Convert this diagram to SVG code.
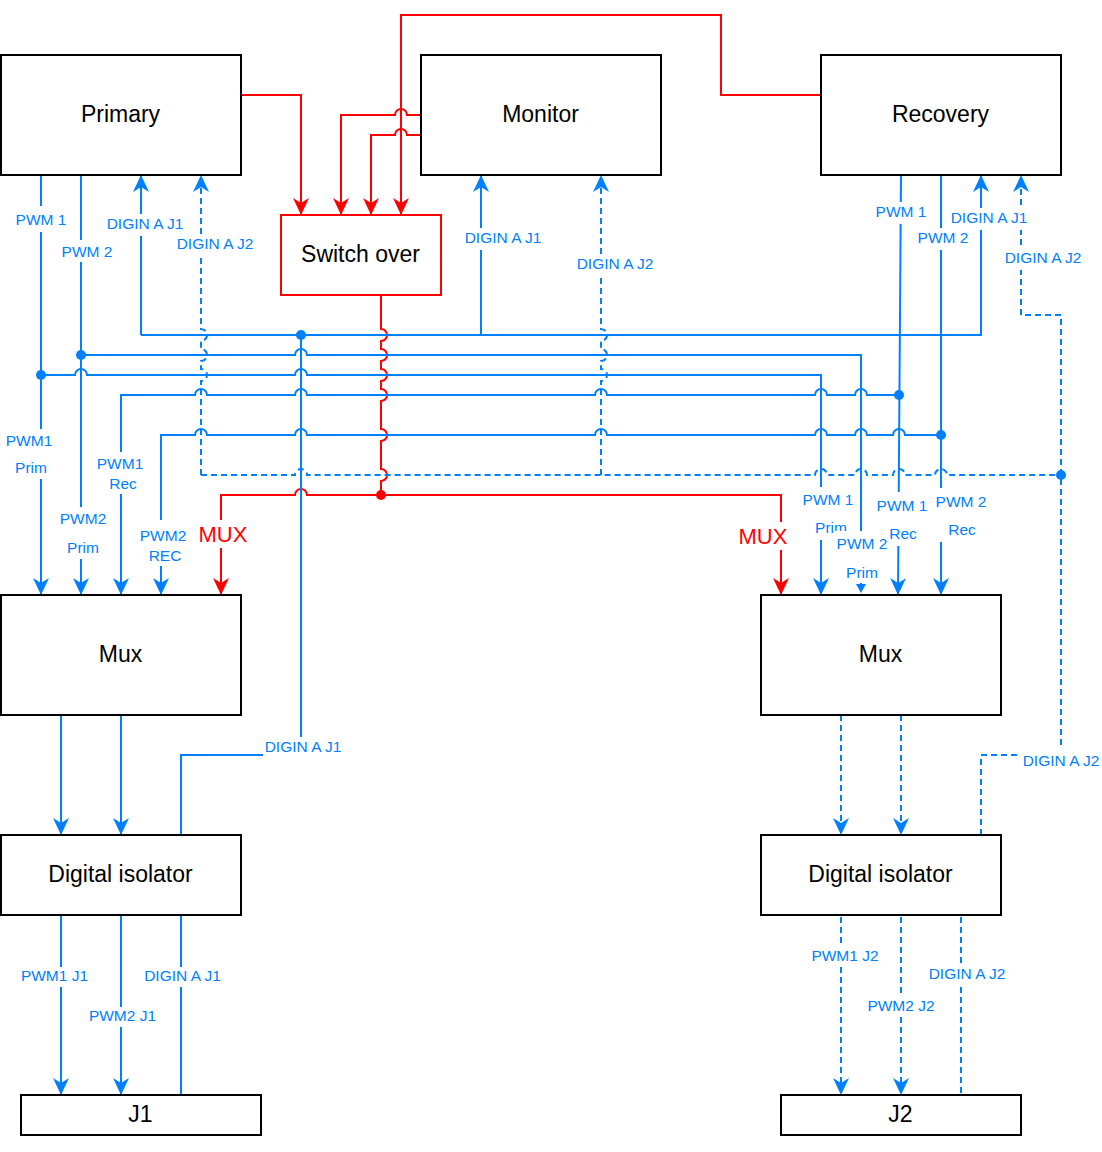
<svg xmlns="http://www.w3.org/2000/svg" width="1102" height="1152" viewBox="0 0 1102 1152">
<defs>
<style>
.box{fill:#fff;stroke:#000;stroke-width:2}
.rbox{fill:#fff;stroke:#f00;stroke-width:2}
.bt{font-family:"Liberation Sans",Arial,sans-serif;font-size:23px;fill:#000;text-anchor:middle}
.b{fill:none;stroke:#007fff;stroke-width:2}
.d{fill:none;stroke:#007fff;stroke-width:2;stroke-dasharray:6 4}
.r{fill:none;stroke:#f00;stroke-width:2}
.lb{font-family:"Liberation Sans",Arial,sans-serif;font-size:15.5px;fill:#007fff;text-anchor:middle}
.lr{font-family:"Liberation Sans",Arial,sans-serif;font-size:22px;fill:#f00;text-anchor:middle}
.bg{fill:#fff;stroke:none}
</style>
<marker id="ab" markerUnits="userSpaceOnUse" markerWidth="17" markerHeight="16" viewBox="0 0 17 16" refX="17" refY="8" orient="auto"><path d="M0,0 L17,8 L0,16 L5,8 Z" fill="#007fff"/></marker>
<marker id="ar" markerUnits="userSpaceOnUse" markerWidth="17" markerHeight="16" viewBox="0 0 17 16" refX="17" refY="8" orient="auto"><path d="M0,0 L17,8 L0,16 L5,8 Z" fill="#f00"/></marker>
</defs>
<rect width="1102" height="1152" fill="#fff"/>

<g id="connectors">
<!-- red -->
<path class="r" d="M241,95 H301 V215" marker-end="url(#ar)"/>
<path class="r" d="M421,115 H407 a6,6 0 0 0 -12,0 H341 V215" marker-end="url(#ar)"/>
<path class="r" d="M421,135 H407 a6,6 0 0 0 -12,0 H371 V215" marker-end="url(#ar)"/>
<path class="r" d="M821,95 H721 V15 H401 V215" marker-end="url(#ar)"/>
<path class="r" d="M381,295 V329 a6,6 0 0 1 0,12 V349 a6,6 0 0 1 0,12 V369 a6,6 0 0 1 0,12 V389 a6,6 0 0 1 0,12 V429 a6,6 0 0 1 0,12 V469 a6,6 0 0 1 0,12 V495"/>
<path class="r" d="M381,495 H307 a6,6 0 0 0 -12,0 H221 V595" marker-end="url(#ar)"/>
<path class="r" d="M381,495 H781 V595" marker-end="url(#ar)"/>

<!-- blue solid -->
<path class="b" d="M41,175 V595" marker-end="url(#ab)"/>
<path class="b" d="M81,175 V595" marker-end="url(#ab)"/>
<path class="b" d="M141,335 V175" marker-end="url(#ab)"/>
<path class="b" d="M141,335 H981 V175" marker-end="url(#ab)"/>
<path class="b" d="M481,335 V175" marker-end="url(#ab)"/>
<path class="b" d="M81,355 H295 a6,6 0 0 1 12,0 H861 V586"/>
<path d="M856,584 L866,584 L861,593 Z" fill="#007fff"/>
<path class="b" d="M41,375 H75 a6,6 0 0 1 12,0 H295 a6,6 0 0 1 12,0 H821 V595" marker-end="url(#ab)"/>
<path class="b" d="M899,395 H867 a6,6 0 0 0 -12,0 H827 a6,6 0 0 0 -12,0 H607 a6,6 0 0 0 -12,0 H307 a6,6 0 0 0 -12,0 H207 a6,6 0 0 0 -12,0 H121 V595" marker-end="url(#ab)"/>
<path class="b" d="M941,435 H905 a6,6 0 0 0 -12,0 H867 a6,6 0 0 0 -12,0 H827 a6,6 0 0 0 -12,0 H607 a6,6 0 0 0 -12,0 H307 a6,6 0 0 0 -12,0 H207 a6,6 0 0 0 -12,0 H161 V595" marker-end="url(#ab)"/>
<path class="b" d="M901,175 L898,595" marker-end="url(#ab)"/>
<path class="b" d="M941,175 V595" marker-end="url(#ab)"/>
<path class="b" d="M301,335 V755 H181 V835"/>
<path class="b" d="M61,715 V835" marker-end="url(#ab)"/>
<path class="b" d="M121,715 V835" marker-end="url(#ab)"/>
<path class="b" d="M61,915 V1095" marker-end="url(#ab)"/>
<path class="b" d="M121,915 V1095" marker-end="url(#ab)"/>
<path class="b" d="M181,915 V1095"/>

<!-- blue dashed -->
<path class="d" d="M201,475 V381 a6,6 0 0 0 0,-12 V361 a6,6 0 0 0 0,-12 V341 a6,6 0 0 0 0,-12 V175" marker-end="url(#ab)"/>
<path class="d" d="M601,475 V381 a6,6 0 0 0 0,-12 V361 a6,6 0 0 0 0,-12 V341 a6,6 0 0 0 0,-12 V175" marker-end="url(#ab)"/>
<path class="d" d="M201,475 H295 a6,6 0 0 1 12,0 H815 a6,6 0 0 1 12,0 H855 a6,6 0 0 1 12,0 H893 a6,6 0 0 1 12,0 H935 a6,6 0 0 1 12,0 H1061"/>
<path class="d" d="M981,835 V755 H1061 V315 H1021 V175" marker-end="url(#ab)"/>
<path class="d" d="M841,715 V835" marker-end="url(#ab)"/>
<path class="d" d="M901,715 V835" marker-end="url(#ab)"/>
<path class="d" d="M841,917 V1095" marker-end="url(#ab)"/>
<path class="d" d="M901,917 V1095" marker-end="url(#ab)"/>
<path class="d" d="M961,917 V1095"/>

<!-- junction dots -->
<g fill="#007fff">
<circle cx="301" cy="335" r="5"/>
<circle cx="81" cy="355" r="5"/>
<circle cx="41" cy="375" r="5"/>
<circle cx="899" cy="395" r="5"/>
<circle cx="941" cy="435" r="5"/>
<circle cx="1061" cy="475" r="5"/>
</g>
<circle cx="381" cy="495" r="5" fill="#f00"/>

<!-- labels -->
<g>
<rect class="bg" x="15" y="206" width="52" height="26"/><text class="lb" x="41" y="225">PWM 1</text>
<rect class="bg" x="61" y="240" width="52" height="22"/><text class="lb" x="87" y="257">PWM 2</text>
<rect class="bg" x="105" y="214" width="80" height="22"/><text class="lb" x="145" y="229">DIGIN A J1</text>
<rect class="bg" x="175" y="234" width="80" height="22"/><text class="lb" x="215" y="249">DIGIN A J2</text>
<rect class="bg" x="463" y="228" width="80" height="22"/><text class="lb" x="503" y="243">DIGIN A J1</text>
<rect class="bg" x="575" y="254" width="80" height="22"/><text class="lb" x="615" y="269">DIGIN A J2</text>
<rect class="bg" x="875" y="202" width="52" height="22"/><text class="lb" x="901" y="217">PWM 1</text>
<rect class="bg" x="949" y="208" width="80" height="22"/><text class="lb" x="989" y="223">DIGIN A J1</text>
<rect class="bg" x="917" y="228" width="52" height="22"/><text class="lb" x="943" y="243">PWM 2</text>
<rect class="bg" x="1003" y="248" width="80" height="22"/><text class="lb" x="1043" y="263">DIGIN A J2</text>

<rect class="bg" x="5" y="429" width="49" height="50"/><text class="lb" x="29" y="446">PWM1</text><text class="lb" x="31" y="473">Prim</text>
<rect class="bg" x="96" y="452" width="49" height="42"/><text class="lb" x="120" y="469">PWM1</text><text class="lb" x="123" y="489">Rec</text>
<rect class="bg" x="58" y="507" width="50" height="52"/><text class="lb" x="83" y="524">PWM2</text><text class="lb" x="83" y="553">Prim</text>
<rect class="bg" x="138" y="520" width="50" height="46"/><text class="lb" x="163" y="541">PWM2</text><text class="lb" x="165" y="561">REC</text>
<rect class="bg" x="197" y="520" width="50" height="28"/><text class="lr" x="223" y="542">MUX</text>
<rect class="bg" x="737" y="522" width="50" height="28"/><text class="lr" x="763" y="544">MUX</text>

<rect class="bg" x="802" y="487" width="52" height="53"/><text class="lb" x="828" y="505">PWM 1</text><text class="lb" x="831" y="533">Prim</text>
<rect class="bg" x="876" y="492" width="52" height="54"/><text class="lb" x="902" y="511">PWM 1</text><text class="lb" x="903" y="539">Rec</text>
<rect class="bg" x="935" y="488" width="53" height="54"/><text class="lb" x="961" y="507">PWM 2</text><text class="lb" x="962" y="535">Rec</text>
<rect class="bg" x="835" y="531" width="54" height="52"/><text class="lb" x="862" y="549">PWM 2</text><text class="lb" x="862" y="578">Prim</text>

<rect class="bg" x="263" y="737" width="80" height="21"/><text class="lb" x="303" y="752">DIGIN A J1</text>
<rect class="bg" x="1021" y="748" width="80" height="22"/><text class="lb" x="1061" y="766">DIGIN A J2</text>

<rect class="bg" x="20" y="967" width="69" height="20"/><text class="lb" x="54.5" y="981">PWM1 J1</text>
<rect class="bg" x="88" y="1007" width="69" height="20"/><text class="lb" x="122.5" y="1021">PWM2 J1</text>
<rect class="bg" x="143" y="967" width="79" height="20"/><text class="lb" x="182.5" y="981">DIGIN A J1</text>
<rect class="bg" x="810" y="947" width="70" height="20"/><text class="lb" x="845" y="961">PWM1 J2</text>
<rect class="bg" x="866" y="997" width="70" height="20"/><text class="lb" x="901" y="1011">PWM2 J2</text>
<rect class="bg" x="927" y="965" width="80" height="20"/><text class="lb" x="967" y="979">DIGIN A J2</text>
</g>
</g>

<g id="primary"><rect class="box" x="1" y="55" width="240" height="120"/><text class="bt" x="120.5" y="122">Primary</text></g>
<g id="monitor"><rect class="box" x="421" y="55" width="240" height="120"/><text class="bt" x="540.5" y="122">Monitor</text></g>
<g id="recovery"><rect class="box" x="821" y="55" width="240" height="120"/><text class="bt" x="940.5" y="122">Recovery</text></g>
<g id="switchover"><rect class="rbox" x="281" y="215" width="160" height="80"/><text class="bt" x="360.5" y="262">Switch over</text></g>
<g id="mux-left"><rect class="box" x="1" y="595" width="240" height="120"/><text class="bt" x="120.5" y="662">Mux</text></g>
<g id="mux-right"><rect class="box" x="761" y="595" width="240" height="120"/><text class="bt" x="880.5" y="662">Mux</text></g>
<g id="iso-left"><rect class="box" x="1" y="835" width="240" height="80"/><text class="bt" x="120.5" y="882">Digital isolator</text></g>
<g id="iso-right"><rect class="box" x="761" y="835" width="240" height="80"/><text class="bt" x="880.5" y="882">Digital isolator</text></g>
<g id="j1"><rect class="box" x="21" y="1095" width="240" height="40"/><text class="bt" x="140.5" y="1122">J1</text></g>
<g id="j2"><rect class="box" x="781" y="1095" width="240" height="40"/><text class="bt" x="900.5" y="1122">J2</text></g>
</svg>
